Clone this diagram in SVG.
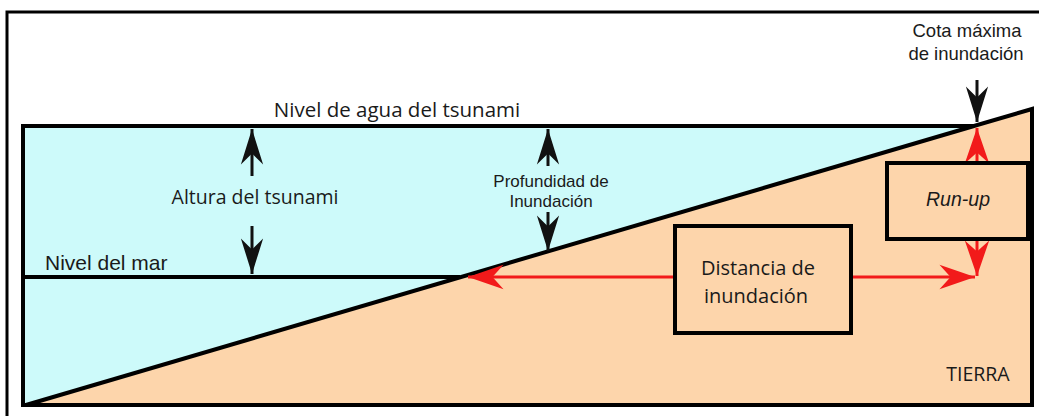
<svg xmlns="http://www.w3.org/2000/svg" width="1039" height="416" viewBox="0 0 1039 416">
<defs>
<style>
.frame{fill:none;stroke:#000;stroke-width:3}
.edge{fill:none;stroke:#000;stroke-width:4;stroke-linejoin:miter}
.water{fill:#cdfafa}
.land{fill:#fdd5ab}
.box{fill:#fdd5ab;stroke:#000;stroke-width:4}
.blk{stroke:#111;stroke-width:3;fill:none}
.red{stroke:#f21a1a;stroke-width:3;fill:none}
.cal{font-family:"Open Sans","Liberation Sans",sans-serif;fill:#1a1a1a}
.ari{font-family:"Liberation Sans",Arial,sans-serif;fill:#1a1a1a}
</style>
<marker id="hb" markerUnits="userSpaceOnUse" markerWidth="40" markerHeight="30" viewBox="-34 -12 36 24" refX="0" refY="0" orient="auto-start-reverse">
<path d="M0,0 L-32,-10 L-22,0 L-32,10 Z" fill="#111"/>
</marker>
<marker id="hr" markerUnits="userSpaceOnUse" markerWidth="40" markerHeight="30" viewBox="-34 -12 36 24" refX="0" refY="0" orient="auto-start-reverse">
<path d="M0,0 L-32,-11 L-22,0 L-32,11 Z" fill="#f21a1a"/>
</marker>
</defs>
<rect width="1039" height="416" fill="#fff"/>
<g id="scene">
<polygon class="water" points="23,126 974,126 26,405 23,405"/>
<polygon class="land" points="26,405 1032,109 1032,405"/>
<path class="edge" d="M23,126 L974,126 L1032,109 L1032,405 L23,405 Z"/>
<line class="edge" x1="26" y1="405" x2="974" y2="126"/>
<line class="edge" x1="23" y1="277" x2="460" y2="277"/>
<rect class="frame" x="7" y="12" width="1040" height="420"/>
</g>
<g id="connectors">
<line class="blk" x1="252" y1="176" x2="252" y2="129" marker-end="url(#hb)"/>
<line class="blk" x1="252" y1="226" x2="252" y2="274" marker-end="url(#hb)"/>
<line class="blk" x1="548" y1="166" x2="548" y2="129" marker-end="url(#hb)"/>
<line class="blk" x1="548" y1="212" x2="548" y2="251" marker-end="url(#hb)"/>
<line class="blk" x1="977" y1="80" x2="977" y2="122" marker-end="url(#hb)"/>
<line class="red" x1="468" y1="277" x2="975" y2="277" marker-start="url(#hr)" marker-end="url(#hr)"/>
<line class="red" x1="977" y1="163" x2="977" y2="128" marker-end="url(#hr)"/>
<line class="red" x1="977" y1="239" x2="977" y2="276" marker-end="url(#hr)"/>
</g>
<g id="label-nivel-agua"><text class="cal" x="397" y="117" font-size="20.5" text-anchor="middle">Nivel de agua del tsunami</text></g>
<g id="label-altura"><text class="cal" x="255" y="204" font-size="19.5" text-anchor="middle">Altura del tsunami</text></g>
<g id="label-nivel-mar"><text class="ari" x="45" y="270" font-size="21">Nivel del mar</text></g>
<g id="label-profundidad"><text class="ari" x="551" y="187" font-size="17" text-anchor="middle">Profundidad de</text><text class="ari" x="551" y="207" font-size="17" text-anchor="middle">Inundación</text></g>
<g id="label-cota"><text class="ari" x="967" y="37" font-size="18.5" text-anchor="middle" fill="#333">Cota máxima</text><text class="ari" x="966" y="60" font-size="18.5" text-anchor="middle" fill="#333">de inundación</text></g>
<g id="box-runup"><rect class="box" x="887" y="163" width="141" height="76"/><text class="ari" x="958" y="206" font-size="19.5" font-style="italic" text-anchor="middle">Run-up</text></g>
<g id="box-distancia"><rect class="box" x="675" y="226" width="176" height="107"/><text class="cal" x="758" y="275" font-size="20" text-anchor="middle">Distancia de</text><text class="cal" x="756" y="303" font-size="20" text-anchor="middle">inundación</text></g>
<g id="label-tierra"><text class="cal" x="978" y="381" font-size="19.5" text-anchor="middle">TIERRA</text></g>
</svg>
